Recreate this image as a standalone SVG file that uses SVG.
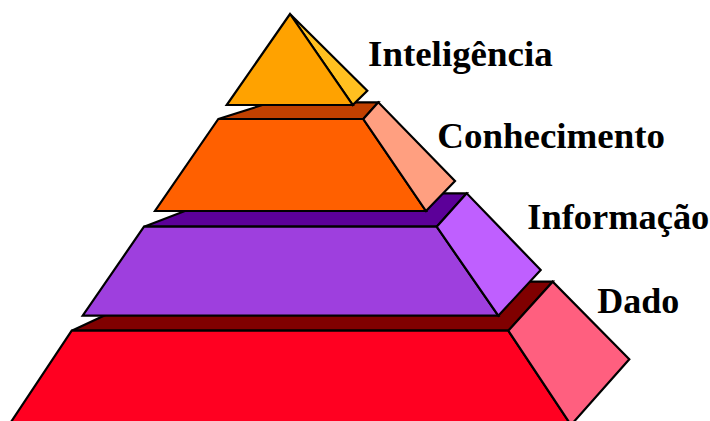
<svg xmlns="http://www.w3.org/2000/svg" width="710" height="421" viewBox="0 0 710 421">
<style>
  polygon { stroke: #000; stroke-width: 2.2; stroke-linejoin: miter; }
  .lbl { font-family: "Liberation Serif", "DejaVu Serif", serif; font-weight: bold; font-size: 35px; fill: #000; }
</style>
<rect width="710" height="421" fill="#fff"/>
<g id="dado">
  <polygon points="71.7,330.7 177,281.7 552.7,281.7 508.3,330.7" fill="#800000"/>
  <polygon points="71.7,330.7 508.3,330.7 571,425 9,425" fill="#FF0021"/>
  <polygon points="508.3,330.7 552.7,281.7 629.3,359.3 571,425" fill="#FF5F7F"/>
  <text class="lbl" x="597.3" y="312.5" textLength="82" lengthAdjust="spacingAndGlyphs">Dado</text>
</g>
<g id="informacao">
  <polygon points="144,226.7 231,193.3 466.7,193.3 436.7,226.7" fill="#5C0099"/>
  <polygon points="144,226.7 436.7,226.7 498.3,315.7 82.7,315.7" fill="#9E3FDE"/>
  <polygon points="436.7,226.7 466.7,193.3 540.7,270 498.3,315.7" fill="#BF5FFF"/>
  <text class="lbl" x="527.3" y="229" textLength="182" lengthAdjust="spacingAndGlyphs">Informação</text>
</g>
<g id="conhecimento">
  <polygon points="218.3,119 271,102.3 378.3,102.3 363.3,119" fill="#C04000"/>
  <polygon points="218.3,119 363.3,119 426,211 155,211" fill="#FF6000"/>
  <polygon points="363.3,119 378.3,102.3 455,181 426,211" fill="#FF9F80"/>
  <text class="lbl" x="437.3" y="148.3" textLength="227.7" lengthAdjust="spacingAndGlyphs">Conhecimento</text>
</g>
<g id="inteligencia">
  <polygon points="290,14 367.3,90.7 352.7,105" fill="#FFC020"/>
  <polygon points="290,14 352.7,105 226.7,105" fill="#FFA200"/>
  <text class="lbl" x="368" y="65.5" textLength="184.7" lengthAdjust="spacingAndGlyphs">Inteligência</text>
</g>
</svg>
